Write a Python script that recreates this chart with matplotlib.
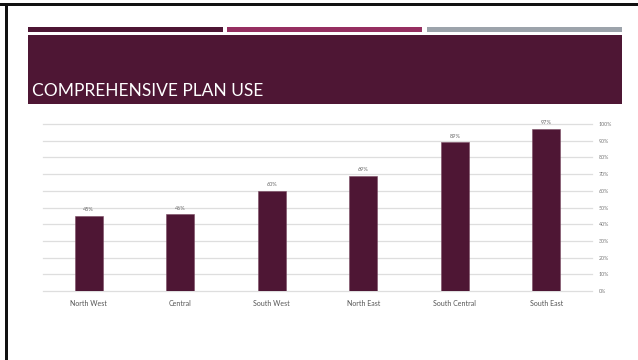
import matplotlib
matplotlib.use("Agg")
import matplotlib.pyplot as plt
from matplotlib.patches import Rectangle

# Data
regions = ["North West", "Central", "South West", "North East", "South Central", "South East"]
usage_pct = [45, 46, 60, 69, 89, 97]
y_ticks = [0, 10, 20, 30, 40, 50, 60, 70, 80, 90, 100]
y_tick_labels = [f"{v}%" for v in y_ticks]
title = "COMPREHENSIVE PLAN USE"

W, H = 638, 360
plt.rcParams["font.family"] = ["Lato", "DejaVu Sans"]

fig = plt.figure(figsize=(W / 100, H / 100), dpi=100)
fig.patch.set_facecolor("white")


def px(x, y):
    """Pixel coords (top-left origin) to figure fraction."""
    return x / W, 1 - y / H


def rect_px(x0, y0, x1, y1, color):
    fx0, fy1 = px(x0, y0)
    fx1, fy0 = px(x1, y1)
    fig.add_artist(Rectangle((fx0, fy0), fx1 - fx0, fy1 - fy0,
                             transform=fig.transFigure, color=color, lw=0, zorder=1))


maroon = "#4E1634"

# Slide frame (left and top edges)
rect_px(0, 3, W, 5.5, "#111111")
rect_px(5, 3, 7.5, H, "#111111")

# Header stripes
rect_px(28, 27, 223, 32, maroon)
rect_px(227, 27, 422, 32, "#952F60")
rect_px(427, 27, 622, 32, "#9CA3AB")

# Title band
rect_px(28, 35, 622, 104, maroon)
tx, ty = px(32, 96)
fig.text(tx, ty, title, color="white", fontsize=12.5, ha="left", va="baseline",
         zorder=3)

# Chart
ax_l, ax_r, ax_t, ax_b = 43, 592, 124, 291
fl, fb = px(ax_l, ax_b)
fr, ft = px(ax_r, ax_t)
ax = fig.add_axes([fl, fb, fr - fl, ft - fb])
ax.set_facecolor("none")

x = list(range(len(regions)))
ax.bar(x, usage_pct, width=0.31, color=maroon, edgecolor="#7a4a62", linewidth=0.4,
       zorder=3)
for xi, v in zip(x, usage_pct):
    ax.text(xi, v + 2.2, f"{v}%", ha="center", va="bottom", fontsize=4,
            color="#666666")

ax.set_xlim(-0.5, len(regions) - 0.5)
ax.set_ylim(0, 100)
for t in y_ticks:
    ax.axhline(t, color="#DEDEDE", lw=0.9, zorder=1, clip_on=False)

ax.set_yticks(y_ticks)
ax.set_yticklabels(y_tick_labels)
ax.yaxis.tick_right()
ax.tick_params(axis="y", length=0, pad=5, labelsize=3.8, labelcolor="#777777")
ax.set_xticks(x)
ax.set_xticklabels(regions)
ax.tick_params(axis="x", length=0, pad=6.5, labelsize=5, labelcolor="#555555")
for s in ax.spines.values():
    s.set_visible(False)

fig.savefig("out.png", dpi=100, facecolor="white")
